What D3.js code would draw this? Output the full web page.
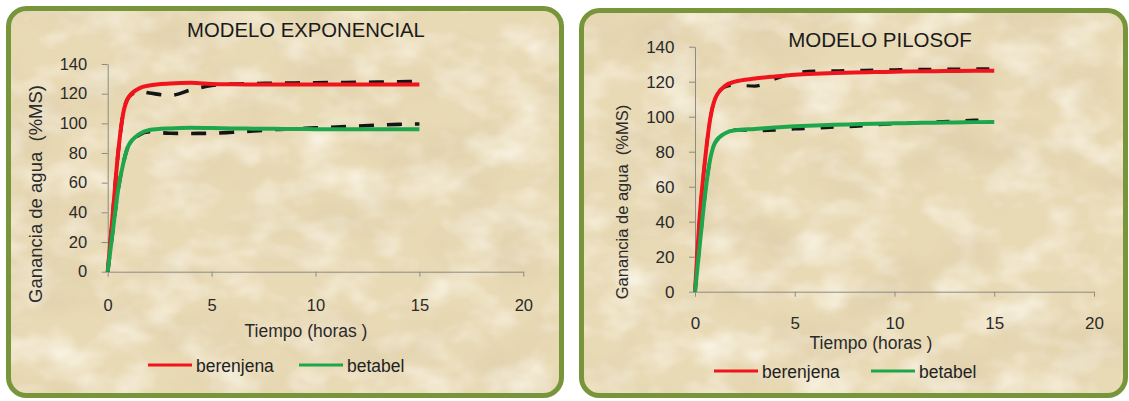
<!DOCTYPE html>
<html>
<head>
<meta charset="utf-8">
<script src="https://cdn.jsdelivr.net/npm/d3@7"></script>
<style>
  html, body { margin: 0; padding: 0; background: #fff; }
  svg { display: block; font-family: "Liberation Sans", Arial, sans-serif; }
</style>
</head>
<body>
<svg id="chart" width="1129" height="401"></svg>
<script>
// valores
const tiempo = [0, 0.25, 0.5, 0.75, 1, 1.5, 2, 3, 4, 5, 6, 7, 8, 9, 10, 11, 12, 13, 14, 15];

const expBerenjenaModelo = [0, 40, 80, 107, 117.5, 123.5, 125.5, 126.8, 127.3, 126.6, 126.3, 126.2, 126.2, 126.2, 126.2, 126.2, 126.2, 126.2, 126.2, 126.2];
const expBetabelModelo   = [0, 28, 55, 73, 85, 92.5, 95.5, 96.6, 97, 96.8, 96.6, 96.4, 96.3, 96.2, 96.1, 96, 96, 96, 96, 96];
const expBerenjenaDatos  = [0, 40, 80, 107, 117.5, 121.5, 120.5, 118.8, 122.5, 125.5, 126.5, 126.8, 127, 127.2, 127.4, 127.5, 127.6, 127.8, 128, 128.2];
const expBetabelDatos    = [0, 28, 55, 73, 85, 92, 94.3, 93.3, 93.2, 93.3, 94, 94.8, 95.8, 96.3, 97, 97.5, 98.2, 98.8, 99.3, 99.6];

const pilBerenjenaModelo = [0, 45, 75, 98, 110, 117.5, 120, 121.8, 123, 124, 124.6, 125, 125.3, 125.5, 125.7, 125.9, 126, 126.1, 126.2, 126.3];
const pilBetabelModelo   = [0, 28, 55, 75, 85, 90.5, 92.3, 93, 93.8, 94.5, 95, 95.4, 95.7, 96, 96.2, 96.4, 96.6, 96.7, 96.9, 97];
const pilBerenjenaDatos  = [0, 45, 75, 98, 110, 117, 118, 117.5, 121.5, 125, 126, 126.2, 126.4, 126.6, 126.8, 127, 127.1, 127.2, 127.3, 127.3];
const pilBetabelDatos    = [0, 28, 55, 75, 85, 90.5, 92.5, 92, 92.3, 93, 93.4, 94, 94.5, 95.3, 96, 96.5, 97, 97.5, 98, 98.3];

const xTicks = [0, 5, 10, 15, 20];
const yTicks = [0, 20, 40, 60, 80, 100, 120, 140];
const series = ["berenjena", "betabel"];

const colores = { berenjena: "#f0141c", betabel: "#1ea64c" };

const svg = d3.select("#chart");
const defs = svg.append("defs");

// textura tipo pergamino
let f = defs.append("filter").attr("id", "tex")
    .attr("x", 0).attr("y", 0).attr("width", 1).attr("height", 1);
f.append("feTurbulence").attr("type", "fractalNoise")
    .attr("baseFrequency", "0.011 0.016").attr("numOctaves", 4).attr("seed", 7);
f.append("feColorMatrix").attr("type", "matrix")
    .attr("values", "0 0 0 0 0.64  0 0 0 0 0.53  0 0 0 0 0.34  2.2 0 0 0 -1.05");

let f2 = defs.append("filter").attr("id", "tex2")
    .attr("x", 0).attr("y", 0).attr("width", 1).attr("height", 1);
f2.append("feTurbulence").attr("type", "fractalNoise")
    .attr("baseFrequency", "0.02 0.03").attr("numOctaves", 3).attr("seed", 21);
f2.append("feColorMatrix").attr("type", "matrix")
    .attr("values", "0 0 0 0 0.98  0 0 0 0 0.95  0 0 0 0 0.86  0 2.2 0 0 -0.95");

function drawChart(cfg) {
    let p = cfg.panel;

    defs.append("clipPath").attr("id", cfg.id + "-clip")
        .append("rect")
        .attr("x", p.x).attr("y", p.y).attr("width", p.w).attr("height", p.h)
        .attr("rx", p.rx);

    let bg = svg.append("g").attr("clip-path", `url(#${cfg.id}-clip)`);
    bg.append("rect")
        .attr("x", p.x).attr("y", p.y).attr("width", p.w).attr("height", p.h)
        .attr("fill", "#e9dab6");
    bg.append("rect")
        .attr("x", p.x).attr("y", p.y).attr("width", p.w).attr("height", p.h)
        .attr("filter", "url(#tex2)").attr("opacity", 0.75);
    bg.append("rect")
        .attr("x", p.x).attr("y", p.y).attr("width", p.w).attr("height", p.h)
        .attr("filter", "url(#tex)").attr("opacity", 0.4);

    svg.append("rect")
        .attr("x", p.x).attr("y", p.y).attr("width", p.w).attr("height", p.h)
        .attr("rx", p.rx)
        .attr("fill", "none")
        .attr("stroke", "#77953b")
        .attr("stroke-width", 5);

    // Scales
    let x = d3.scaleLinear().domain([0, 20]).range(cfg.xRange);
    let y = d3.scaleLinear().domain([0, 140]).range(cfg.yRange);

    let g = svg.append("g");

    // Axes
    let gx = g.append("g")
        .attr("transform", `translate(0,${cfg.yRange[0]})`)
        .call(d3.axisBottom(x).tickValues(xTicks).tickSize(5).tickSizeOuter(0).tickPadding(cfg.xPad));
    let gy = g.append("g")
        .attr("transform", `translate(${cfg.xRange[0]},0)`)
        .call(d3.axisLeft(y).tickValues(yTicks).tickSize(6).tickSizeOuter(0).tickPadding(14.5));

    [gx, gy].forEach(a => {
        a.select(".domain").attr("stroke", "#8a8a86");
        a.selectAll(".tick line").attr("stroke", "#8a8a86");
        a.selectAll(".tick text")
            .attr("fill", "#2a2a2a")
            .style("font-size", cfg.tickFont + "px")
            .style("font-family", "Liberation Sans, Arial, sans-serif");
    });

    let line = d3.line()
        .x((d, i) => x(tiempo[i]))
        .y(d => y(d))
        .curve(d3.curveMonotoneX);

    // datos experimentales (discontinua) debajo del modelo
    cfg.datos.forEach(s => {
        g.append("path")
            .attr("d", line(s))
            .attr("fill", "none")
            .attr("stroke", "#141414")
            .attr("stroke-width", cfg.dashWidth)
            .attr("stroke-dasharray", cfg.dash);
    });

    cfg.modelo.forEach((s, k) => {
        g.append("path")
            .attr("d", line(s))
            .attr("fill", "none")
            .attr("stroke", colores[series[k]])
            .attr("stroke-width", 4)
            .attr("stroke-linejoin", "round");
    });

    // textos
    g.append("text")
        .attr("x", cfg.title.x).attr("y", cfg.title.y)
        .attr("text-anchor", "middle")
        .attr("fill", "#1a1a1a")
        .style("font-size", cfg.title.size + "px")
        .text(cfg.title.text);

    g.append("text")
        .attr("transform", `translate(${cfg.yTitle.x},${cfg.yTitle.y}) rotate(-90)`)
        .attr("text-anchor", "middle")
        .attr("fill", "#2a2a2a")
        .style("font-size", cfg.yTitle.size + "px")
        .style("white-space", "pre")
        .text("Ganancia de agua  (%MS)");

    g.append("text")
        .attr("x", cfg.xTitle.x).attr("y", cfg.xTitle.y)
        .attr("text-anchor", "middle")
        .attr("fill", "#2a2a2a")
        .style("font-size", cfg.xTitle.size + "px")
        .text("Tiempo (horas )");

    // leyenda
    let lg = g.selectAll(".leg")
        .data(series)
        .join("g")
        .attr("class", "leg")
        .attr("transform", (d, i) => `translate(${cfg.legend.x[i]},${cfg.legend.y})`);
    lg.append("line")
        .attr("x1", 0).attr("x2", 44)
        .attr("y1", 0).attr("y2", 0)
        .attr("stroke", d => colores[d])
        .attr("stroke-width", 3);
    lg.append("text")
        .attr("x", 48).attr("y", 7)
        .attr("fill", "#222")
        .style("font-size", cfg.legend.size + "px")
        .text(d => d);
}

drawChart({
    id: "exp",
    panel: { x: 8.5, y: 8.5, w: 553, h: 387, rx: 18 },
    xRange: [107.7, 523.3],
    yRange: [271.7, 64],
    xPad: 23,
    tickFont: 16.5,
    dash: "15,13",
    dashWidth: 3.6,
    modelo: [expBerenjenaModelo, expBetabelModelo],
    datos: [expBerenjenaDatos, expBetabelDatos],
    title: { text: "MODELO EXPONENCIAL", x: 306, y: 36.7, size: 20.3 },
    yTitle: { x: 42, y: 194, size: 18.5 },
    xTitle: { x: 306, y: 337, size: 17.5 },
    legend: { x: [148, 299], y: 365, size: 17.5 }
});

drawChart({
    id: "pil",
    panel: { x: 581.5, y: 10.5, w: 544, h: 385, rx: 18 },
    xRange: [695, 1094],
    yRange: [291.7, 46.7],
    xPad: 20,
    tickFont: 17,
    dash: "13,16",
    dashWidth: 3.2,
    modelo: [pilBerenjenaModelo, pilBetabelModelo],
    datos: [pilBerenjenaDatos, pilBetabelDatos],
    title: { text: "MODELO PILOSOF", x: 880, y: 46.7, size: 20.5 },
    yTitle: { x: 628, y: 202, size: 16.5 },
    xTitle: { x: 871, y: 349, size: 17.5 },
    legend: { x: [714, 871], y: 371, size: 17.5 }
});
</script>
</body>
</html>
